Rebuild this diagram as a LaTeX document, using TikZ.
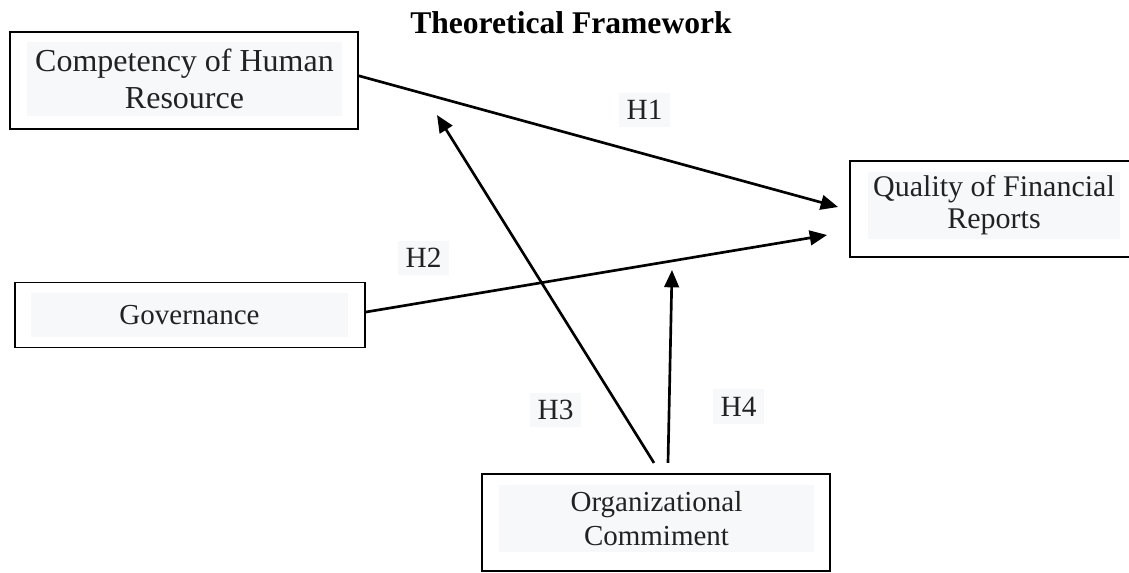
\documentclass[tikz,border=0pt]{standalone}
\usepackage{fontspec}
\setmainfont{Liberation Serif}
\usetikzlibrary{arrows.meta}
\definecolor{lightbg}{HTML}{F7F8FA}
\definecolor{txtgray}{HTML}{222222}
\tikzset{
  frame/.style={draw, line width=1.4pt, inner sep=0pt},
  textbg/.style={fill=lightbg, inner sep=0pt, align=center, text=txtgray},
  hlabel/.style={fill=lightbg, inner sep=0pt, minimum width=38.25pt, minimum height=26pt,
    text=txtgray, font=\fontsize{22}{22}\selectfont},
  arr/.style={line width=2pt, -{Triangle[length=13pt,width=11pt]}}
}
\begin{document}
\begin{tikzpicture}[x=0.75pt,y=-0.75pt]
\useasboundingbox (0,0) rectangle (1129,572);
%Title
\node [anchor=base, font=\fontsize{23.7}{24}\selectfont\bfseries] (title) at (571,33) {Theoretical Framework};
%Boxes
\node [frame, minimum width=261pt, minimum height=72.75pt] (chr) at (184,80.5) {};
\node [textbg, minimum width=236.25pt, minimum height=55.5pt, font=\fontsize{24}{27.5}\selectfont] (chrtext) at (184.5,79) {Competency of Human\\Resource};
\node [frame, minimum width=211.5pt, minimum height=72pt] (qfr) at (991,209) {};
\node [textbg, minimum width=189pt, minimum height=50.25pt, font=\fontsize{22.5}{24}\selectfont] (qfrtext) at (994,205.5) {Quality of Financial\\Reports};
\node [frame, minimum width=262.5pt, minimum height=48.75pt] (gov) at (190,315) {};
\node [textbg, minimum width=237.75pt, minimum height=33pt, font=\fontsize{21.75}{24}\selectfont] (govtext) at (189.5,315) {Governance};
\node [frame, minimum width=261pt, minimum height=73pt] (org) at (656,522.5) {};
\node [textbg, minimum width=236.25pt, minimum height=50.25pt, font=\fontsize{21.75}{25.5}\selectfont] (orgtext) at (656.5,518.5) {Organizational\\Commiment};
%Hypothesis labels
\node [hlabel] (h1) at (644.5,110) {H1};
\node [hlabel] (h2) at (423.5,258) {H2};
\node [hlabel] (h3) at (555.5,410) {H3};
\node [hlabel] (h4) at (738.5,406.5) {H4};
%Arrows
\coordinate (h3end) at (437,115);
\coordinate (h4end) at (672,270);
\draw [arr] ([yshift=3.5pt]chr.east) -- ([xshift=-8.25pt,yshift=1.5pt]qfr.west);
\draw [arr] ([yshift=2.25pt]gov.east) -- ([xshift=-16.5pt,yshift=-19.5pt]qfr.west);
\draw [arr] ([xshift=-1.5pt,yshift=7.5pt]org.north) -- (h3end);
\draw [arr] ([xshift=9pt,yshift=7.5pt]org.north) -- (h4end);
\end{tikzpicture}
\end{document}
